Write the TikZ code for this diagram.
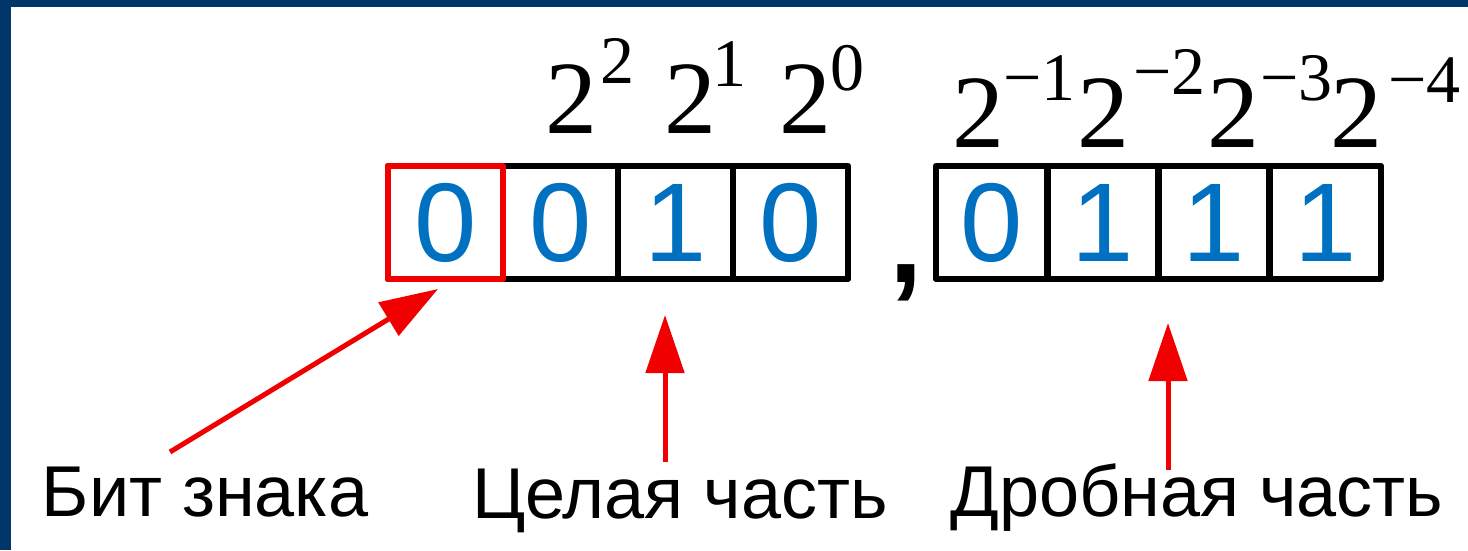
\documentclass[tikz,border=0pt]{standalone}
\usepackage{fontspec}
\setmainfont{Liberation Sans}
\newfontfamily\serifface{Liberation Serif}
\usetikzlibrary{arrows.meta}
\definecolor{frameblue}{RGB}{0,54,104}
\definecolor{digitblue}{RGB}{0,112,192}
\definecolor{arrowred}{RGB}{240,0,0}
\tikzset{
  cell/.style={draw=black, line width=6.5pt, line join=round, minimum height=113pt, inner sep=0pt,
    text=digitblue, font=\fontsize{112}{120}\selectfont},
  signcell/.style={draw=arrowred, line width=6pt, line join=round, minimum width=115pt, minimum height=113pt, inner sep=0pt},
  base/.style={anchor=base west, inner sep=0pt, font=\serifface\fontsize{104}{110}\selectfont},
  expo/.style={anchor=base west, inner sep=0pt, font=\serifface\fontsize{68}{70}\selectfont},
  lab/.style={anchor=base, inner sep=0pt, font=\fontsize{72}{78}\selectfont},
  pointer/.style={draw=arrowred, line width=5pt, -{Triangle[length=58pt, width=38pt]}, fill=arrowred},
}
\begin{document}
\begin{tikzpicture}[x=1pt,y=-1pt]
\useasboundingbox (0,0) rectangle (1468,550);
\fill[white] (0,0) rectangle (1468,550);
\fill[frameblue] (0,0) rectangle (1468,7);
\fill[frameblue] (0,0) rectangle (11,550);

% integer group
\node[cell, minimum width=115pt] (c1) at (445.5,222.5) {0};
\node[cell, minimum width=115pt] (c2) at (560.5,222.5) {0};
\node[cell, minimum width=115pt] (c3) at (675.5,222.5) {1};
\node[cell, minimum width=115pt] (c4) at (790.5,222.5) {0};
\node[signcell] (sign) at (445.5,222.5) {};

% comma
\node[anchor=base, inner sep=0pt, font=\bfseries\fontsize{120}{120}\selectfont] (comma) at (906,282) {,};

% fraction group
\node[cell, minimum width=111.25pt] (c5) at (991.6,222.5) {0};
\node[cell, minimum width=111.25pt] (c6) at (1102.9,222.5) {1};
\node[cell, minimum width=111.25pt] (c7) at (1214.1,222.5) {1};
\node[cell, minimum width=111.25pt] (c8) at (1325.4,222.5) {1};

% powers
\node[base] (b1) at (545,133) {2};
\node[expo] (e1) at (600,83) {2};
\node[base] (b2) at (664,133) {2};
\node[expo] (e2) at (712,86) {1};
\node[base] (b3) at (779,133) {2};
\node[expo] (e3) at (830,90) {0};

\node[base] (b4) at (952,147) {2};
\node[expo] (e4) at (1003,100) {−1};
\node[base] (b5) at (1077,147) {2};
\node[expo] (e5) at (1133,94) {−2};
\node[base] (b6) at (1207,147) {2};
\node[expo] (e6) at (1260,100) {−3};
\node[base] (b7) at (1330,147) {2};
\node[expo] (e7) at (1388,102) {−4};

% labels
\node[lab] (l1) at (205,516) {Бит знака};
\node[lab] (l2) at (680,518) {Целая часть};
\node[lab] (l3) at (1197,516) {Дробная часть};

% arrows
\coordinate (t1) at (170,452);
\coordinate (h1) at (438,289);
\coordinate (t2) at (665,462);
\coordinate (h2) at (665,315);
\coordinate (t3) at (1168,470);
\coordinate (h3) at (1168,323);
\draw[pointer] (t1) -- (h1);
\draw[pointer] (t2) -- (h2);
\draw[pointer] (t3) -- (h3);
\end{tikzpicture}
\end{document}
